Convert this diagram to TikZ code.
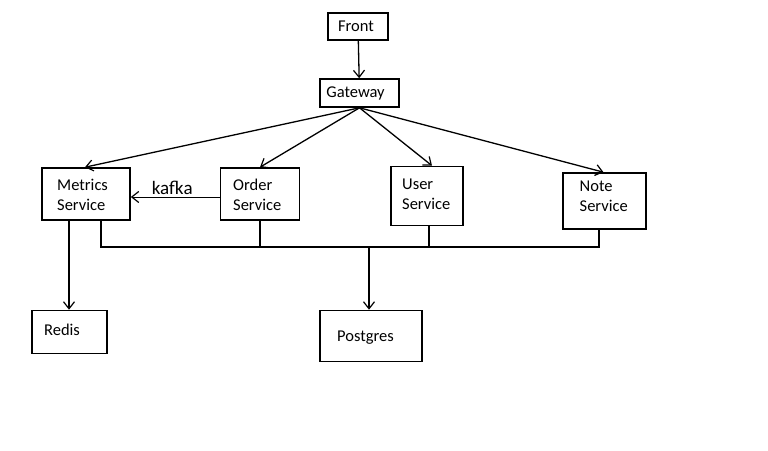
\documentclass[tikz,border=0pt]{standalone}
\usepackage{fontspec}
\setmainfont{Carlito}
\usetikzlibrary{arrows.meta}
\begin{document}
\begin{tikzpicture}[x=1pt,y=-1pt,
  box/.style={draw,line width=1.6pt,inner sep=0pt},
  txt/.style={inner sep=0pt,align=left,font=\fontsize{16.5}{20}\selectfont},
  arr/.style={line width=1.3pt,-{Straight Barb[length=7pt,width=11pt,line width=1.2pt]}},
  ln/.style={line width=1.9pt}]
\useasboundingbox (0,0) rectangle (768,450);
\fill[white] (0,0) rectangle (768,450);
% boxes
\node[box,minimum width=60pt,minimum height=27pt] (front) at (358,26.5) {};
\node[box,minimum width=79pt,minimum height=28pt] (gw) at (359.5,93) {};
\node[box,minimum width=88pt,minimum height=52pt] (met) at (86,194) {};
\node[box,minimum width=79pt,minimum height=52pt] (ord) at (260,194) {};
\node[box,minimum width=72pt,minimum height=59pt] (usr) at (427,196) {};
\node[box,minimum width=83pt,minimum height=56pt] (note) at (604.5,201) {};
\node[box,minimum width=75pt,minimum height=43pt] (red) at (69.5,332) {};
\node[box,minimum width=102pt,minimum height=51pt] (pg) at (371,336) {};
% texts
\node[txt] (frontT) at (356,26.5) {Front};
\node[txt] (gwT) at (355.5,93.5) {Gateway};
\node[txt,anchor=west] (metT) at (57,194.5) {Metrics\\Service};
\node[txt,anchor=west] (ordT) at (233,194.5) {Order\\Service};
\node[txt,anchor=west] (usrT) at (402,194.5) {User\\Service};
\node[txt,anchor=west] (noteT) at (579.5,196.5) {Note\\Service};
\node[txt] (redT) at (62,329.5) {Redis};
\node[txt] (pgT) at (365.5,337.5) {Postgres};
% connectors
\draw[arr] (front) -- (gw);
\draw[arr] (gw.south) -- ([xshift=-1pt]met.north);
\draw[arr] (gw.south) -- (ord.north);
\draw[arr] (gw.south) -- ([xshift=5pt]usr.north);
\draw[arr] (gw.south) -- ([xshift=-1pt]note.north);
\draw[arr,line width=1pt] ([yshift=-3pt]ord.west) -- node[above=2pt,inner sep=0pt,font=\fontsize{19}{20}\selectfont,xshift=-3pt] (kafka) {kafka} ([yshift=-3pt]met.east);
\coordinate (b1) at (101,247);
\coordinate (b2) at (260,247);
\coordinate (b3) at (429,247);
\coordinate (b4) at (599,247);
\coordinate (bp) at (369,247);
\draw[ln] (met.south -| b1) -- (b1) -- (b4) -- (note.south -| b4);
\draw[ln] (ord.south -| b2) -- (b2);
\draw[ln] (usr.south -| b3) -- (b3);
\draw[arr,line width=1.4pt] (bp) -- (bp |- pg.north);
\draw[arr,line width=2.2pt] ([xshift=-17pt]met.south) -- ([xshift=-0.5pt]red.north);
\end{tikzpicture}
\end{document}
